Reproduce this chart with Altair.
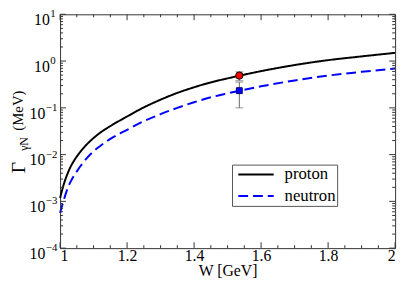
import altair as alt
import pandas as pd

# ---------------- data ----------------
W = [1.0, 1.005, 1.01, 1.02, 1.03, 1.04, 1.05, 1.06, 1.08, 1.10, 1.12, 1.15, 1.20, 1.25,
     1.30, 1.35, 1.40, 1.45, 1.50, 1.60, 1.70, 1.80, 1.90, 2.00]
proton = [1.175e-3, 1.622e-3, 2.188e-3, 3.548e-3, 5.248e-3, 7.079e-3, 9.12e-3, 0.01135,
          0.0166, 0.02265, 0.02951, 0.04074, 0.06531, 0.1023, 0.1496, 0.2089, 0.2754,
          0.3508, 0.4266, 0.6095, 0.8222, 1.047, 1.259, 1.500]
neutron = [5.62e-4, 7.59e-4, 1.00e-3, 1.698e-3, 2.512e-3, 3.388e-3, 4.365e-3, 5.559e-3,
           8.414e-3, 0.01175, 0.01531, 0.02163, 0.03388, 0.05188, 0.07328, 0.1000, 0.1318,
           0.1679, 0.2042, 0.2884, 0.3846, 0.4898, 0.5888, 0.6918]

series_names = ["proton", "neutron"]
series_colors = ["black", "#0000ff"]

pt_W = [1.535, 1.535]
pt_val = [0.49, 0.233]
pt_lo = [0.38, 0.10]
pt_hi = [0.59, 0.355]

x_major = [1.0, 1.2, 1.4, 1.6, 1.8, 2.0]
x_minor = [1.05, 1.1, 1.15, 1.25, 1.3, 1.35, 1.45, 1.5, 1.55, 1.65, 1.7, 1.75, 1.85, 1.9, 1.95]
y_major = [1e-4, 1e-3, 1e-2, 1e-1, 1.0, 10.0]
y_exp = ["\u22124", "\u22123", "\u22122", "\u22121", "0", "1"]
y_minor = [m * d for d in [1e-4, 1e-3, 1e-2, 1e-1, 1.0] for m in range(2, 10)]

# ---------------- tables ----------------
df_curves = pd.DataFrame({
    "W": W * 2,
    "G": proton + neutron,
    "series": ["proton"] * len(W) + ["neutron"] * len(W),
})
df_pts = pd.DataFrame({"W": pt_W, "G": pt_val, "lo": pt_lo, "hi": pt_hi, "series": series_names})
df_xmaj = pd.DataFrame({"v": x_major})
df_xmin = pd.DataFrame({"v": x_minor})
df_ymaj = pd.DataFrame({"v": y_major, "exp": y_exp})
df_ymin = pd.DataFrame({"v": y_minor})

PW, PH = 341, 238
FONT = "Liberation Serif"
FRAME = "#333333"

xs = alt.Scale(domain=[1, 2], nice=False, zero=False)
ys = alt.Scale(type="log", domain=[1e-4, 10], nice=False)

x_axis = alt.Axis(values=x_major, format="~g", ticks=False, domain=False, grid=False,
                  labelFont=FONT, labelFontSize=16, labelColor="black",
                  labelBaseline="alphabetic", labelPadding=13,
                  title="W [GeV]", titleFont=FONT, titleFontSize=16, titleFontWeight="normal",
                  titleColor="black", titleBaseline="alphabetic", titleY=28)


def X(field):
    return alt.X(field, scale=xs, axis=x_axis)


def Y(field):
    return alt.Y(field, scale=ys, axis=None)


legend = alt.Legend(orient="none", legendX=175, legendY=153, title=None,
                    symbolType="M-0.6,0H5.4", symbolSize=144, symbolStrokeWidth=2,
                    labelFont=FONT, labelFontSize=17, labelColor="black",
                    strokeColor="#555555", fillColor="white", padding=1.5,
                    rowPadding=4, labelOffset=35)

curves = alt.Chart(df_curves).mark_line(interpolate="monotone", strokeWidth=2).encode(
    x=X("W:Q"),
    y=Y("G:Q"),
    color=alt.Color("series:N", scale=alt.Scale(domain=series_names, range=series_colors), legend=legend),
    strokeDash=alt.StrokeDash("series:N", scale=alt.Scale(domain=series_names, range=[[1, 0], [10, 5]]), legend=legend),
)

ebar = alt.Chart(df_pts).mark_rule(color="#666666", strokeWidth=1).encode(
    x=X("W:Q"), y=Y("lo:Q"), y2="hi:Q")
cap_lo = alt.Chart(df_pts).mark_tick(color="#666666", orient="horizontal", size=8, thickness=1).encode(
    x=X("W:Q"), y=Y("lo:Q"))
cap_hi = alt.Chart(df_pts).mark_tick(color="#666666", orient="horizontal", size=8, thickness=1).encode(
    x=X("W:Q"), y=Y("hi:Q"))

pt_circle = alt.Chart(df_pts).transform_filter("datum.series == 'proton'").mark_point(
    shape="circle", filled=True, size=55, fill="#ff0000", stroke="black", strokeWidth=1, opacity=1).encode(
    x=X("W:Q"), y=Y("G:Q"))
pt_square = alt.Chart(df_pts).transform_filter("datum.series == 'neutron'").mark_point(
    shape="square", filled=True, size=36, fill="#0000ff", stroke="#000080", strokeWidth=1, opacity=1).encode(
    x=X("W:Q"), y=Y("G:Q"))


# tick marks drawn inward on all four sides
def xticks(df, L):
    bot = alt.Chart(df).mark_rule(color=FRAME, strokeWidth=1).encode(
        x=X("v:Q"), y=alt.value(PH), y2=alt.value(PH - L))
    top = alt.Chart(df).mark_rule(color=FRAME, strokeWidth=1).encode(
        x=X("v:Q"), y=alt.value(0), y2=alt.value(L))
    return [bot, top]


def yticks(df, L):
    lef = alt.Chart(df).mark_rule(color=FRAME, strokeWidth=1).encode(
        y=Y("v:Q"), x=alt.value(0), x2=alt.value(L))
    rig = alt.Chart(df).mark_rule(color=FRAME, strokeWidth=1).encode(
        y=Y("v:Q"), x=alt.value(PW), x2=alt.value(PW - L))
    return [lef, rig]


ticks = xticks(df_xmaj, 6) + xticks(df_xmin, 3) + yticks(df_ymaj, 6) + yticks(df_ymin, 3)


# y tick labels 10^n
def ylabels(filt, xbase):
    base = alt.Chart(df_ymaj).transform_filter(filt).mark_text(
        font=FONT, fontSize=16, align="right", baseline="alphabetic", dy=11, color="black").encode(
        y=Y("v:Q"), x=alt.value(xbase), text=alt.value("10"))
    sup = alt.Chart(df_ymaj).transform_filter(filt).mark_text(
        font=FONT, fontSize=11, align="left", baseline="alphabetic", dy=3, color="black").encode(
        y=Y("v:Q"), x=alt.value(xbase + 0.5), text="exp:N")
    return [base, sup]


ylabs = ylabels("length(datum.exp) > 1", -15) + ylabels("length(datum.exp) == 1", -10.5)

# y title: Γ_γN (MeV)
one = df_xmaj.iloc[:1]
t_gamma = alt.Chart(one).mark_text(
    font=FONT, fontSize=20, angle=270, align="center", baseline="alphabetic", color="black").encode(
    x=alt.value(-36), y=alt.value(156), text=alt.value("Γ"))
t_sub = alt.Chart(one).mark_text(
    font=FONT, fontSize=12, angle=270, align="center", baseline="alphabetic", color="black").encode(
    x=alt.value(-33), y=alt.value(132), text=alt.value("γN"))
t_unit = alt.Chart(one).mark_text(
    font=FONT, fontSize=15, angle=270, align="center", baseline="alphabetic", color="black").encode(
    x=alt.value(-38), y=alt.value(98), text=alt.value("(MeV)"))

chart = alt.layer(curves, ebar, cap_lo, cap_hi, pt_circle, pt_square, *ticks, *ylabs,
                  t_gamma, t_sub, t_unit).properties(
    width=PW, height=PH,
    padding={"left": 53, "top": 4, "right": 6, "bottom": 30},
    autosize=alt.AutoSizeParams(type="none"),
    background="white",
).configure(font=FONT).configure_view(stroke=FRAME, strokeWidth=1).configure_legend(
    labelFont=FONT, labelFontSize=17, labelColor="black")

chart.save("out.html", embed_options={"renderer": "svg", "actions": False})
